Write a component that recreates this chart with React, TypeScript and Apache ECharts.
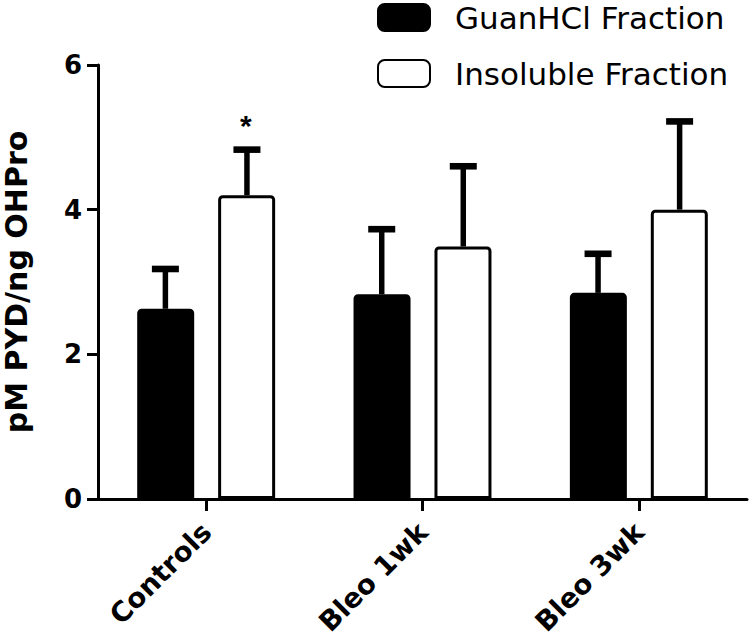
import React, { useEffect, useRef } from "react";
import * as echarts from "echarts";

const categories = ["Controls", "Bleo 1wk", "Bleo 3wk"];
const guanValues = [2.63, 2.83, 2.85];
const guanErrors = [0.55, 0.9, 0.54];
const insolValues = [4.2, 3.49, 4.0];
const insolErrors = [0.63, 1.11, 1.22];
const insolSignificance = ["*", "", ""];
const yTicks = [0, 2, 4, 6];

const FONT = "'DejaVu Sans', 'Liberation Sans', Arial, sans-serif";
const STAR_FONT = "'Liberation Sans', Arial, sans-serif";

function errorSeries(name: string, values: number[], errors: number[], sign: number, marks: string[]) {
  return {
    type: "custom",
    name: name + " err",
    z: 5,
    silent: true,
    renderItem: (params: any, api: any) => {
      const idx = api.value(0);
      const v = api.value(1);
      const e = api.value(2);
      const base = api.coord([idx, v]);
      const top = api.coord([idx, v + e]);
      const band = api.size([1, 0])[0];
      const x = base[0] + sign * band * 0.1885;
      const children: any[] = [
        { type: "line", shape: { x1: x, y1: base[1], x2: x, y2: top[1] }, style: { stroke: "#000", lineWidth: 5.5 } },
        { type: "rect", shape: { x: x - 13.5, y: top[1] - 3.3, width: 27, height: 6.6 }, style: { fill: "#000" } },
      ];
      const m = marks[params.dataIndex];
      if (m) {
        children.push({
          type: "text",
          x: x - 1,
          y: top[1] - 24,
          style: { text: m, fill: "#000", font: "bold 30px " + STAR_FONT, align: "center", verticalAlign: "middle" },
        });
      }
      return { type: "group", children };
    },
    data: values.map((v, i) => [i, v, errors[i]]),
  };
}

export default function App() {
  const ref = useRef<HTMLDivElement>(null);
  useEffect(() => {
    const chart = echarts.init(ref.current!, null, { renderer: "svg" });
    chart.setOption({
      animation: false,
      backgroundColor: "#fff",
      textStyle: { fontFamily: FONT },
      legend: {
        orient: "vertical",
        left: 377,
        top: 2,
        padding: 0,
        itemWidth: 52,
        itemHeight: 27,
        itemGap: 25,
        data: ["GuanHCl Fraction", "Insoluble Fraction"],
        textStyle: { fontSize: 31, color: "#000", fontFamily: FONT, padding: [0, 0, 0, 20] },
      },
      grid: { left: 98, right: 3, top: 65, bottom: 137, containLabel: false, outerBoundsMode: "none" },
      xAxis: {
        type: "category",
        data: categories,
        axisLine: { lineStyle: { color: "#000", width: 3 } },
        axisTick: { show: true, alignWithLabel: true, length: 12, lineStyle: { width: 3, color: "#000" } },
        axisLabel: { rotate: 45, fontSize: 27.5, fontWeight: "bold", color: "#000", margin: 28, fontFamily: FONT },
      },
      yAxis: {
        type: "value",
        min: 0,
        max: 6,
        interval: 2,
        name: "pM PYD/ng OHPro",
        nameLocation: "middle",
        nameGap: 67,
        nameTextStyle: { fontSize: 30, fontWeight: "bold", color: "#000", fontFamily: FONT },
        axisLine: { show: true, lineStyle: { color: "#000", width: 3 } },
        axisTick: { show: true, length: 11, lineStyle: { width: 3, color: "#000" } },
        axisLabel: {
          fontSize: 26,
          fontWeight: "bold",
          color: "#000",
          margin: 16,
          fontFamily: FONT,
          formatter: (v: number) => (yTicks.includes(v) ? String(v) : ""),
        },
        splitLine: { show: false },
      },
      series: [
        {
          type: "bar",
          name: "GuanHCl Fraction",
          data: guanValues,
          barWidth: 57,
          barGap: "42%",
          itemStyle: { color: "#000", borderColor: "#000", borderWidth: 3, borderRadius: [3, 3, 0, 0] },
        },
        {
          type: "bar",
          name: "Insoluble Fraction",
          data: insolValues,
          barWidth: 57,
          barGap: "42%",
          itemStyle: { color: "#fff", borderColor: "#000", borderWidth: 3, borderRadius: [3, 3, 0, 0] },
        },
        errorSeries("GuanHCl Fraction", guanValues, guanErrors, -1, ["", "", ""]),
        errorSeries("Insoluble Fraction", insolValues, insolErrors, 1, insolSignificance),
      ],
    });
    return () => chart.dispose();
  }, []);
  return <div ref={ref} style={{ width: 750, height: 636, position: "absolute", left: 0, top: 0 }} />;
}
